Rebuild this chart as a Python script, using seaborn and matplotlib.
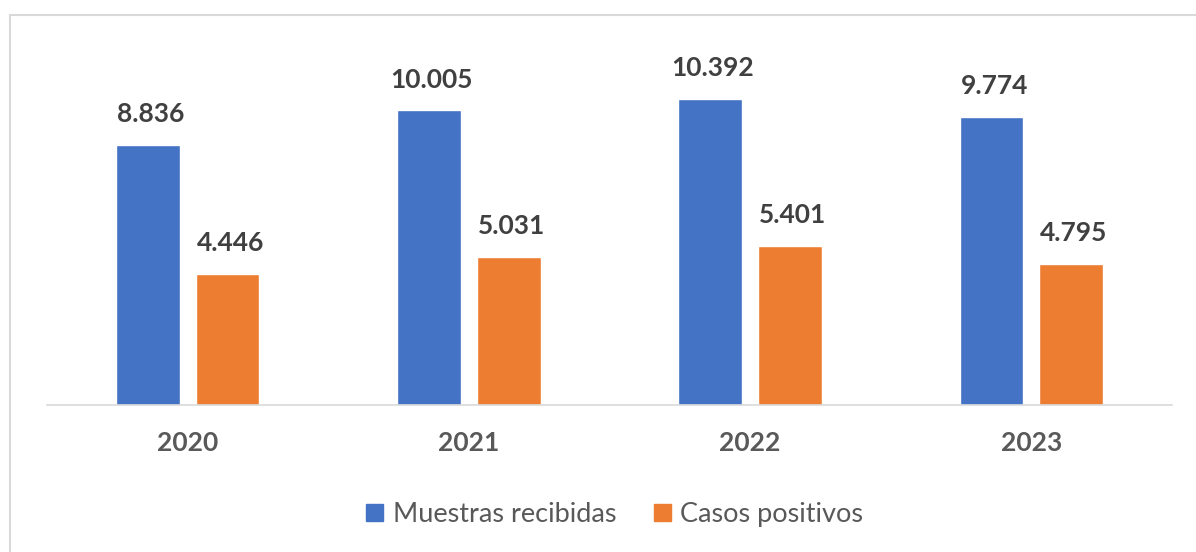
import matplotlib.pyplot as plt
import matplotlib.patches as mpatches
import pandas as pd
import seaborn as sns

years = ["2020", "2021", "2022", "2023"]
muestras = [8836, 10005, 10392, 9774]
casos = [4446, 5031, 5401, 4795]
series = ["Muestras recibidas", "Casos positivos"]
colors = ["#4472C4", "#ED7D31"]


def fmt(v):
    return f"{v:,}".replace(",", ".")


def plot():
    sns.set_theme(style="white")
    plt.rcParams["font.family"] = ["Lato", "DejaVu Sans"]

    df = pd.DataFrame({
        "year": years * 2,
        "value": muestras + casos,
        "serie": [series[0]] * 4 + [series[1]] * 4,
    })

    fig = plt.figure(figsize=(11.96, 5.52), dpi=100)
    ax = fig.add_axes([47 / 1196, 1 - 405 / 552, 1125 / 1196, 365 / 552])

    sns.barplot(data=df, x="year", y="value", hue="serie", palette=colors,
                width=0.566, gap=0.2, ax=ax, legend=False, saturation=1)
    ax.set_ylim(0, 12400)
    ax.set_xlim(-0.5, 3.5)

    for cont in ax.containers:
        for bar in cont:
            h = bar.get_height()
            ax.annotate(fmt(int(round(h))), (bar.get_x() + bar.get_width() / 2, h),
                        xytext=(2, 16.5), textcoords="offset points",
                        ha="center", va="baseline", fontsize=19,
                        fontweight="bold", color="#404040")

    ax.set_xlabel("")
    ax.set_ylabel("")
    ax.set_yticks([])
    for s in ["top", "left", "right"]:
        ax.spines[s].set_visible(False)
    ax.spines["bottom"].set_color("#D9D9D9")
    ax.spines["bottom"].set_linewidth(1.2)
    ax.tick_params(axis="x", length=0, pad=19, labelsize=19, labelcolor="#595959")
    for t in ax.get_xticklabels():
        t.set_fontweight("bold")

    handles = [mpatches.Patch(color=c, label=l) for c, l in zip(colors, series)]
    fig.legend(handles=handles, loc="center", bbox_to_anchor=(0.514, 0.068),
               ncol=2, frameon=False, fontsize=19.5, handlelength=0.62,
               handleheight=0.62, handletextpad=0.35, columnspacing=1.4,
               labelcolor="#595959")

    border = mpatches.Rectangle((10 / 1196, -0.1), 1.2, 0.1 + 1 - 15 / 552,
                                transform=fig.transFigure, fill=False,
                                edgecolor="#D9D9D9", linewidth=1.5)
    fig.patches.append(border)

    fig.savefig("out.png", dpi=100)


if __name__ == "__main__":
    plot()
